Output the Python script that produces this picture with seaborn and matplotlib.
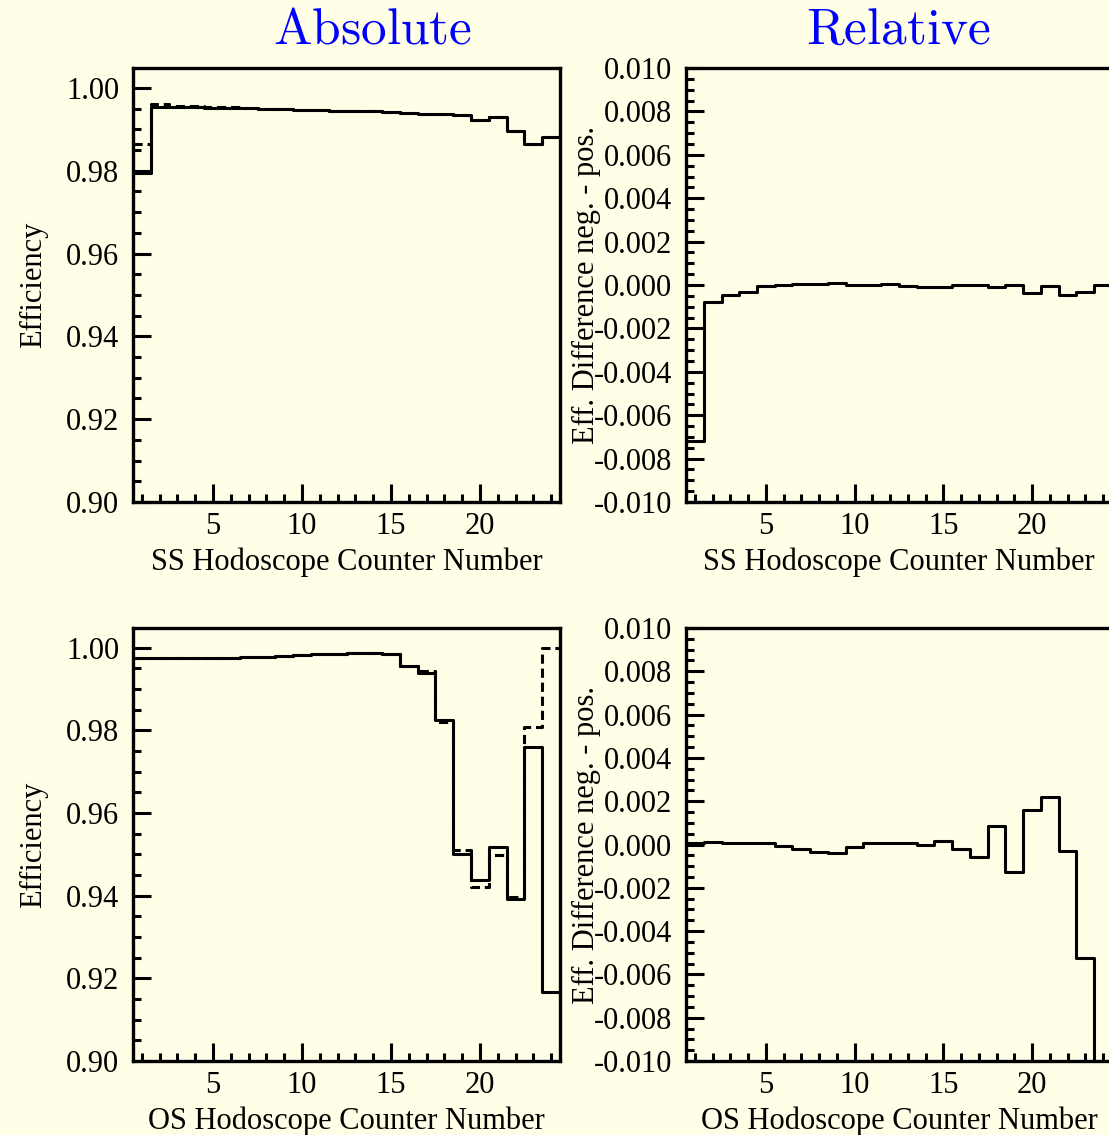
import matplotlib
matplotlib.use('Agg')
import matplotlib.pyplot as plt
import seaborn as sns
import numpy as np
from matplotlib.ticker import MultipleLocator

# counter numbers 1..24, bin edges at half-integers
counters = list(range(1, 25))

# SS hodoscope, absolute efficiency
ss_eff_solid = [0.9795, 0.9953, 0.9953, 0.9953, 0.9952, 0.9952, 0.9951, 0.9950,
                0.9948, 0.9947, 0.9946, 0.9945, 0.9944, 0.9943, 0.9941, 0.9940,
                0.9938, 0.9936, 0.9934, 0.9923, 0.9930, 0.9896, 0.9865, 0.9882]
ss_eff_dashed = [0.9865, 0.9960, 0.9957, 0.9957, 0.9955, 0.9953, 0.9951, 0.9950,
                 0.9948, 0.9947, 0.9946, 0.9945, 0.9944, 0.9943, 0.9941, 0.9940,
                 0.9938, 0.9936, 0.9934, 0.9923, 0.9930, 0.9896, 0.9865, 0.9882]

# OS hodoscope, absolute efficiency
os_eff_solid = [0.9975, 0.9975, 0.9975, 0.9975, 0.9976, 0.9976, 0.9977, 0.9978,
                0.9980, 0.9982, 0.9984, 0.9986, 0.9987, 0.9988, 0.9986, 0.9957,
                0.9940, 0.9825, 0.9502, 0.9437, 0.9518, 0.9393, 0.9759, 0.9167]
os_eff_dashed = [0.9975, 0.9975, 0.9975, 0.9975, 0.9976, 0.9976, 0.9977, 0.9978,
                 0.9980, 0.9982, 0.9984, 0.9986, 0.9987, 0.9988, 0.9986, 0.9957,
                 0.9944, 0.9820, 0.9511, 0.9421, 0.9499, 0.9397, 0.9809, 0.9999]

# relative difference neg. - pos.
ss_diff = [-0.00719, -0.00077, -0.00046, -0.00031, -0.00005, 0.0, 0.00005, 0.00005,
           0.00010, 0.0, 0.0, 0.00003, -0.00005, -0.00008, -0.00008, 0.00002,
           -0.00001, -0.00008, 0.0, -0.00038, -0.00005, -0.00046, -0.00032, 0.00002]
os_diff = [0.00005, 0.00012, 0.00009, 0.00006, 0.00005, -0.00006, -0.00021, -0.00034,
           -0.00040, -0.00011, 0.00005, 0.00009, 0.00009, -0.00002, 0.00014, -0.00021,
           -0.00060, 0.00085, -0.00128, 0.00159, 0.00218, -0.00029, -0.00525, -0.0830]

bg = '#fffee6'
sns.set_theme(style='ticks')
plt.rcParams['font.family'] = ['Liberation Serif', 'DejaVu Serif']
plt.rcParams['mathtext.fontset'] = 'cm'
plt.rcParams['axes.facecolor'] = bg
plt.rcParams['figure.facecolor'] = bg
for key in ['text.color', 'axes.labelcolor', 'xtick.color', 'ytick.color', 'axes.edgecolor']:
    plt.rcParams[key] = 'black'

fs = 22
lw = 2.2


def step_line(ax, vals, dashed=False):
    edges = np.arange(0.5, 25.0, 1.0)
    y = np.append(vals, vals[-1])
    kw = dict(dashes=(3, 1.6)) if dashed else {}
    sns.lineplot(x=edges, y=y, ax=ax, drawstyle='steps-post', estimator=None,
                 sort=False, color='black', lw=lw, **kw)


def style_axes(ax, ylim, major, minor, fmt, xlabel, ylabel):
    ax.set_xlim(0.5, 24.5)
    ax.set_ylim(*ylim)
    ax.xaxis.set_major_locator(MultipleLocator(5))
    ax.xaxis.set_minor_locator(MultipleLocator(1))
    ax.yaxis.set_major_locator(MultipleLocator(major))
    ax.yaxis.set_minor_locator(MultipleLocator(minor))
    ax.yaxis.set_major_formatter(plt.FormatStrFormatter(fmt))
    ax.tick_params(which='both', direction='in', width=2.2, color='black',
                   labelsize=fs, top=False, right=False)
    ax.tick_params(which='major', length=13)
    ax.tick_params(which='minor', length=6)
    ax.tick_params(axis='y', pad=10)
    ax.tick_params(axis='x', pad=7)
    for s in ax.spines.values():
        s.set_linewidth(2.4)
        s.set_color('black')
    ax.set_xlabel(xlabel, fontsize=fs, labelpad=5)
    ax.set_ylabel(ylabel, fontsize=fs)
    ax.yaxis.set_label_coords(-0.20, 0.5)


fig = plt.figure(figsize=(11.09, 11.35), dpi=100)
W, H = 1109, 1135


def add_ax(x0, y0, x1, y1):
    return fig.add_axes([x0 / W, 1 - y1 / H, (x1 - x0) / W, (y1 - y0) / H])


ax_tl = add_ax(133, 68, 560, 502)
ax_tr = add_ax(686, 68, 1112, 502)
ax_bl = add_ax(133, 628, 560, 1061)
ax_br = add_ax(686, 628, 1112, 1061)

step_line(ax_tl, ss_eff_dashed, dashed=True)
step_line(ax_tl, ss_eff_solid)
style_axes(ax_tl, (0.90, 1.0048), 0.02, 0.005, '%.2f',
           'SS Hodoscope Counter Number', 'Efficiency')

step_line(ax_tr, ss_diff)
style_axes(ax_tr, (-0.010, 0.010), 0.002, 0.0005, '%.3f',
           'SS Hodoscope Counter Number', 'Eff. Difference neg. - pos.')

step_line(ax_bl, os_eff_dashed, dashed=True)
step_line(ax_bl, os_eff_solid)
style_axes(ax_bl, (0.90, 1.0048), 0.02, 0.005, '%.2f',
           'OS Hodoscope Counter Number', 'Efficiency')

step_line(ax_br, os_diff)
style_axes(ax_br, (-0.010, 0.010), 0.002, 0.0005, '%.3f',
           'OS Hodoscope Counter Number', 'Eff. Difference neg. - pos.')

fig.text(372 / W, 1 - 31 / H, r'$\mathrm{Absolute}$', color='blue',
         fontsize=37, ha='center', va='center')
fig.text(899 / W, 1 - 31 / H, r'$\mathrm{Relative}$', color='blue',
         fontsize=37, ha='center', va='center')

fig.savefig('out.png', dpi=100, facecolor=bg)
